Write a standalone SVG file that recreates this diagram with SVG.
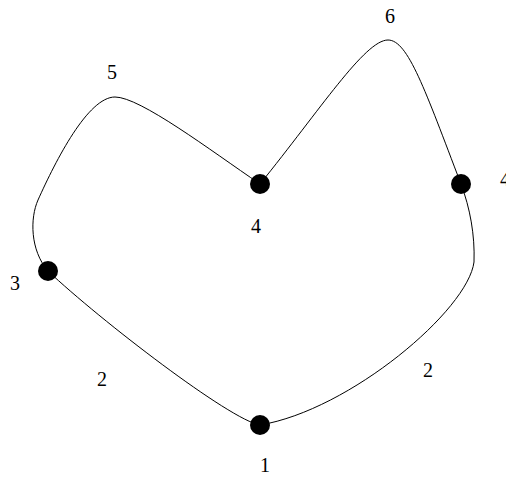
<svg xmlns="http://www.w3.org/2000/svg" width="506" height="479" viewBox="0 0 506 479">
<style>
.lbl{font-family:"Liberation Serif","Times New Roman",serif;font-size:20px;fill:#000;text-anchor:middle}
.dot{fill:#000}
.edge{fill:none;stroke:#000;stroke-width:1}
</style>
<rect width="506" height="479" fill="#fff"/>
<g id="connectors">
<path class="edge" d="M260,184 C320,110 365,40 388,40 C408,40 425,90 461,184 C470,208 475,235 474,262 C468,310 350,410 260,425 C230,420 100,320 48,271 C30,250 30,218 38,200 C56,160 88,97 115,97 C140,97 210,150 260,184"/>
</g>
<g id="n1"><circle class="dot" cx="260" cy="425" r="10"/><text class="lbl" x="265" y="472">1</text></g>
<g id="n3"><circle class="dot" cx="48" cy="271" r="10"/><text class="lbl" x="15" y="290">3</text></g>
<g id="n4c"><circle class="dot" cx="260" cy="184" r="10"/><text class="lbl" x="256" y="233">4</text></g>
<g id="n4r"><circle class="dot" cx="461" cy="184" r="10"/><text class="lbl" x="500" y="186" style="text-anchor:start">4</text></g>
<g id="labels">
<text class="lbl" x="390" y="23">6</text>
<text class="lbl" x="112" y="79">5</text>
<text class="lbl" x="102" y="386">2</text>
<text class="lbl" x="428" y="377">2</text>
</g>
</svg>
